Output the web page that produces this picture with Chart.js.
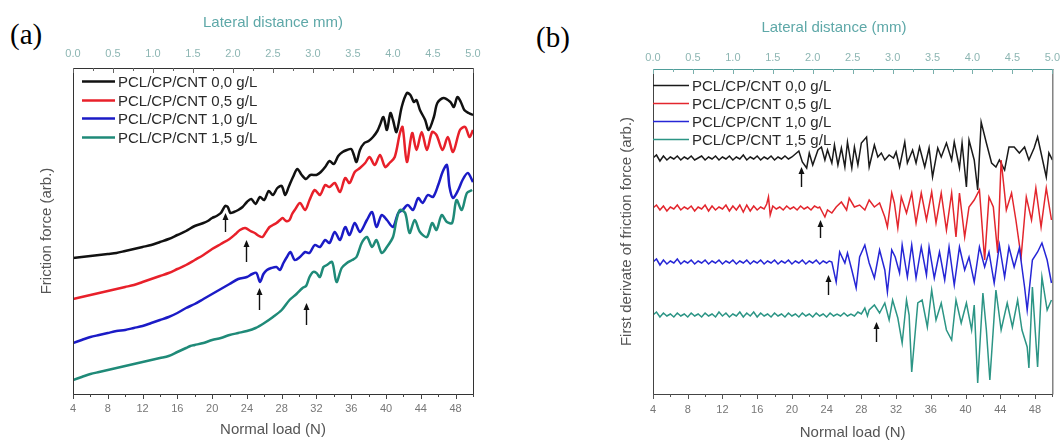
<!DOCTYPE html>
<html>
<head>
<meta charset="utf-8">
<script src="https://cdn.jsdelivr.net/npm/chart.js@4.4.1/dist/chart.umd.min.js"></script>
<style>
  body { margin: 0; background: #fff; width: 1064px; height: 442px; position: relative; overflow: hidden; }
  .panel { position: absolute; top: 0; width: 532px; height: 442px; }
  .tag { position: absolute; font-family: "Liberation Serif", "Times New Roman", serif; font-size: 29px; line-height: 29px; color: #000; }
</style>
</head>
<body>
<div class="tag" style="left:10px;top:20px">(a)</div>
<div class="tag" style="left:536px;top:23px">(b)</div>
<div class="panel" style="left:0"><canvas id="friction"></canvas></div>
<div class="panel" style="left:532px"><canvas id="derivative"></canvas></div>
<script>
// sample names, shared by both panels
const sampleLabels = ['PCL/CP/CNT 0,0 g/L', 'PCL/CP/CNT 0,5 g/L', 'PCL/CP/CNT 1,0 g/L', 'PCL/CP/CNT 1,5 g/L'];

// axis tick labels
const loadTicks = [4, 8, 12, 16, 20, 24, 28, 32, 36, 40, 44, 48];
const distanceTicks = [0, 0.5, 1, 1.5, 2, 2.5, 3, 3.5, 4, 4.5, 5];

// (a) friction force vs normal load, [N, arb.] (curves offset vertically)
const friction00 = [[4,136],[5,137],[6,138],[7,139],[8,140],[9,141],[10,143],[11,145],[12,147],[13,149],[14,152],[15,155],[16,159],[17,163],[18,168],[19,171],[19.5,173],[20,176],[20.5,178],[21,181],[21.5,188],[21.8,187],[22.1,181],[22.5,182],[23,184],[23.5,187],[24,192],[24.5,195],[25,190],[25.5,197],[26,194],[26.5,203],[27,199],[27.5,206],[28,208],[28.4,199],[28.8,207],[29.3,217],[29.8,225],[30.3,219],[30.8,215],[31.3,219],[32,219],[32.5,222],[33,227],[33.5,233],[34,230],[34.5,238],[35,242],[35.5,244],[36,245],[36.3,239],[36.6,232],[37,244],[37.5,251],[38,253],[38.5,257],[39,263],[39.3,269],[39.7,277],[40.1,264],[40.5,281],[40.8,274],[41.2,262],[41.8,287],[42.4,301],[42.8,299],[43.2,292],[43.5,294],[43.9,284],[44.5,274],[44.9,264],[45.5,277],[45.9,291],[46.6,296],[47.4,292],[47.8,287],[48.2,297],[48.6,292],[49,284],[49.5,281],[50,279]];
const friction05 = [[4,95],[5,97],[6,99],[7,101],[8,103],[9,105],[10,107],[11,109],[12,112],[13,115],[14,118],[15,121],[16,125],[17,129],[18,134],[19,139],[20,145],[21,150],[22,155],[22.7,160],[23.2,164],[23.8,166],[24.4,163],[24.9,161],[25.4,158],[25.8,157],[26.2,162],[26.6,167],[27,169],[27.4,171],[27.8,174],[28.1,176],[28.5,173],[28.9,174],[29.2,180],[29.5,184],[30.1,191],[30.7,184],[31.2,194],[31.8,204],[32.4,199],[33,209],[33.5,207],[34.1,211],[34.7,202],[35.3,216],[35.8,211],[36.4,222],[37,226],[37.6,231],[38.1,237],[38.7,229],[39.3,239],[39.9,227],[40.4,231],[41,237],[41.6,261],[41.9,267],[42.4,232],[43,261],[43.5,244],[44.1,262],[44.7,244],[45.3,262],[45.8,259],[46.5,244],[47.1,257],[47.7,242],[48.5,264],[49.1,267],[49.6,257],[50,264]];
const friction10 = [[4,51],[5,54],[6,57],[7,59],[8,61],[9,63],[10,64],[11,66],[12,68],[13,71],[14,74],[15,77],[16,81],[17,86],[18,90],[19,95],[20,100],[21,105],[22,110],[23,115],[24,117],[24.6,120],[25.1,121],[25.5,112],[25.9,120],[26.3,124],[26.8,126],[27.4,127],[27.8,124],[28.2,131],[28.6,137],[29,142],[29.5,134],[30.1,137],[30.7,142],[31.2,141],[31.8,149],[32.4,147],[33,154],[33.5,151],[34.1,162],[34.7,154],[35.3,167],[35.8,159],[36.4,171],[37,162],[37.8,174],[38.4,182],[38.9,167],[39.5,179],[40.1,174],[40.8,167],[41.4,181],[41.9,184],[42.5,189],[43.1,184],[43.7,196],[44.2,191],[44.8,199],[45.4,197],[46,209],[46.5,222],[47,229],[47.3,207],[47.7,196],[48.3,204],[48.8,214],[49.4,221],[50,212]];
const friction15 = [[4,14],[5,17],[6,20],[7,22],[8,24],[9,26],[10,28],[11,30],[12,32],[13,34],[14,36],[15,38],[16,42],[17,46],[17.5,48],[18,49],[19,51],[20,54],[21,56],[22,59],[23,61],[24,63],[25,66],[26,71],[27,77],[28,84],[28.9,94],[29.7,100],[30.4,106],[30.8,108],[31.2,117],[31.6,122],[32,121],[32.4,117],[32.8,127],[33.2,129],[33.8,132],[34.3,112],[34.9,126],[35.5,131],[36.1,134],[36.6,137],[37.2,151],[37.8,157],[38.4,147],[38.9,154],[39.5,141],[40.1,147],[40.8,157],[41.2,174],[41.6,184],[42.2,181],[42.7,161],[43.3,174],[43.9,162],[44.7,157],[45.3,171],[45.8,164],[46.4,179],[47,172],[47.6,171],[48.1,194],[48.7,184],[49.3,201],[49.9,204]];
// onset arrows (a): [N, tail, head]
const frictionArrows = [[21.5,162,181],[23.9,132,154],[25.4,84,106],[30.8,69,91]];

// (b) first derivative of friction force, [N, arb.] (offset traces)
const deriv00 = [[4,236],[4.4,239],[4.8,233],[5.2,238],[5.6,234],[6,237],[6.4,235],[6.8,238],[7.2,234],[7.6,237],[8,235],[8.4,238],[8.8,234],[9.2,236],[9.6,238],[10,234],[10.4,237],[10.8,235],[11.2,238],[11.6,234],[12,237],[12.4,235],[12.8,238],[13.2,234],[13.6,237],[14,235],[14.4,239],[14.8,234],[15.2,237],[15.6,235],[16,238],[16.4,234],[16.8,237],[17.2,235],[17.6,238],[18,234],[18.4,237],[18.8,235],[19.2,238],[19.6,235],[20,237],[20.4,240],[20.8,243],[21.2,232],
  [21.7,226],[22,241],[22.4,229],[23,244],[23.4,247],[23.8,234],[24.1,244],[24.6,231],[24.9,249],[25.3,229],[25.7,246],[26.1,227],[26.4,252],[26.9,226],[27.2,247],[27.6,229],[28,251],[28.6,257],[28.9,227],[29.5,249],[29.9,237],[30.3,241],[30.7,234],[31.2,239],[31.7,236],[32,242],[32.4,227],[33,252],[33.3,231],[33.9,244],[34.3,231],[34.7,247],[35.3,227],[35.8,246],[36.2,217],[36.8,246],[37.2,237],[37.8,251],[38.4,234],[38.7,252],[39.3,226],[39.6,251],[40.1,207],[40.4,254],[41,234],[41.4,204],[41.8,272],[42.4,251],[43,231],[43.5,227],[43.9,234],[44.5,224],[45,247],[45.6,247],[46.2,241],[46.8,247],[47.3,234],[47.9,246],[48.3,257],[48.8,237],[49.3,217],[49.6,241],[50,234]];
const deriv05 = [[4,186],[4.4,189],[4.8,184],[5.2,188],[5.6,183],[6,187],[6.4,185],[6.8,189],[7.2,184],[7.6,187],[8,185],[8.4,188],[8.8,183],[9.2,187],[9.6,185],[10,189],[10.4,183],[10.8,188],[11.2,184],[11.6,187],[12,185],[12.4,189],[12.8,183],[13.2,188],[13.6,184],[14,189],[14.4,182],[14.8,189],[15.2,183],[15.6,188],[16,184],[16.4,187],[16.8,185],[17.1,190],[17.3,197],[17.5,179],[17.8,188],[18.2,185],[18.6,187],[19,184],[19.4,188],[19.8,185],[20.2,187],[20.6,184],[21,188],[21.4,185],[21.8,187],[22.2,184],[22.6,188],[23,186],
  [23.2,187],[23.8,177],[24.1,184],[24.6,181],[25.1,187],[25.7,192],[26.3,184],[26.6,196],[27.2,187],[27.8,189],[28.4,184],[28.9,194],[29.5,187],[30.1,191],[30.7,177],[31,167],[31.5,201],[31.8,191],[32.2,166],[32.6,197],[33.2,181],[33.8,201],[34.3,171],[34.9,201],[35.5,174],[36.1,202],[36.6,171],[37.2,201],[37.8,164],[38.4,201],[38.9,157],[39.3,201],[39.9,157],[40.4,187],[41,194],[41.6,204],[42.2,134],[42.7,197],[43.2,187],[43.7,141],[44.1,234],[44.7,184],[45.3,201],[45.8,174],[46.4,137],[47,197],[47.6,174],[48.1,206],[48.7,167],[49.3,206],[49.9,174]];
const deriv10 = [[4,132],[4.4,135],[4.8,129],[5.2,134],[5.6,130],[6,133],[6.4,131],[6.8,135],[7.2,130],[7.6,133],[8,131],[8.4,134],[8.8,130],[9.2,133],[9.6,131],[10,134],[10.4,130],[10.8,133],[11.2,131],[11.6,134],[12,130],[12.4,133],[12.8,131],[13.2,134],[13.6,130],[14,133],[14.4,131],[14.8,134],[15.2,130],[15.6,133],[16,131],[16.4,134],[16.8,130],[17.2,133],[17.6,131],[18,134],[18.4,130],[18.8,133],[19.2,131],[19.6,134],[20,130],[20.4,133],[20.8,131],[21.2,134],[21.6,130],[22,133],[22.4,131],[22.8,134],[23.2,130],[23.6,133],[24,131],[24.3,133],
  [24.6,132],[25.1,112],[25.5,142],[26.1,131],[26.4,141],[26.9,124],[27.4,106],[27.8,137],[28.4,149],[28.9,131],[29.5,116],[30.1,144],[30.7,124],[31,102],[31.5,144],[31.9,137],[32.4,121],[32.7,149],[33.3,117],[33.8,149],[34.3,116],[34.9,147],[35.5,119],[35.8,147],[36.4,116],[37,142],[37.6,114],[38.1,147],[38.7,109],[39.3,147],[39.9,124],[40.4,137],[41,112],[41.6,147],[42.2,127],[42.7,142],[43.3,111],[43.9,149],[44.5,117],[45,147],[45.6,127],[46.2,146],[46.8,107],[47.1,84],[47.7,134],[48.3,142],[48.8,151],[49.4,134],[49.9,111]];
const deriv15 = [[4,79],[4.4,82],[4.8,77],[5.2,81],[5.6,78],[6,80],[6.4,77],[6.8,81],[7.2,78],[7.6,80],[8,77],[8.4,81],[8.8,78],[9.2,80],[9.6,77],[10,81],[10.4,78],[10.8,80],[11.2,77],[11.6,82],[12,78],[12.4,81],[12.8,77],[13.2,80],[13.6,78],[14,82],[14.4,77],[14.8,81],[15.2,78],[15.6,82],[16,77],[16.4,81],[16.8,78],[17.2,80],[17.6,77],[18,81],[18.4,78],[18.8,80],[19.2,77],[19.6,81],[20,78],[20.4,80],[20.8,77],[21.2,81],[21.6,78],[22,80],[22.4,77],[22.8,81],[23.2,78],[23.6,80],[24,77],[24.4,81],[24.8,78],[25.2,80],[25.6,78],[26,81],[26.4,78],[26.8,80],[27.2,78],[27.6,82],[28,80],[28.4,86],[28.7,78],
  [28.9,84],[29.5,89],[30.1,81],[30.7,91],[31.2,74],[31.6,94],[32.2,76],[32.7,51],[33.2,94],[33.5,79],[33.8,22],[34.5,91],[35,94],[35.6,67],[36.1,104],[36.6,74],[37.2,91],[37.8,64],[38.4,54],[38.9,94],[39.5,71],[40.1,91],[40.7,64],[41,89],[41.4,11],[42,101],[42.4,64],[42.8,14],[43.5,104],[44.1,64],[44.8,91],[45.4,67],[46,94],[46.5,64],[47.1,47],[47.3,26],[47.7,107],[48.3,27],[48.8,117],[49.4,84],[49.9,94]];
// onset arrows (b): [N, tail, head]
const derivArrows = [[21.0,207,227],[23.2,156,174],[24.1,99,119],[29.7,52,72]];

const FONT = '"Liberation Sans", Arial, sans-serif';

// per-canvas decoration settings (frame, minor ticks, in-plot legend, arrows)
const decor = {
  friction: { arrows: frictionArrows, frame: '#333', top: '#333', topTick: '#666', bottomTick: '#444',
    legend: { left: 9, top: 13, gap: 18.7, len: 33, width: 2.6 } },
  derivative: { arrows: derivArrows, frame: '#444', top: '#4f9e9a', topTick: '#7ab0ac', bottomTick: '#555',
    legend: { left: 0, top: 16, gap: 18, len: 36, width: 1.4 } }
};

const panelDecor = {
  id: 'panelDecor',
  afterDatasetsDraw(chart) {
    const d = decor[chart.canvas.id];
    const { ctx, chartArea: a, scales } = chart;
    ctx.save();
    ctx.lineWidth = 1;
    // box around the plot
    ctx.strokeStyle = d.frame;
    ctx.beginPath();
    ctx.moveTo(a.left + 0.5, a.top);
    ctx.lineTo(a.left + 0.5, a.bottom + 0.5);
    ctx.lineTo(a.right + 0.5, a.bottom + 0.5);
    ctx.lineTo(a.right + 0.5, a.top);
    ctx.stroke();
    ctx.strokeStyle = d.top;
    ctx.beginPath();
    ctx.moveTo(a.left, a.top + 0.5);
    ctx.lineTo(a.right + 1, a.top + 0.5);
    ctx.stroke();
    // bottom ticks every 2 N, outward
    ctx.strokeStyle = d.bottomTick;
    ctx.beginPath();
    for (let v = 4; v <= 50; v += 2) {
      const px = Math.round(scales.x.getPixelForValue(v)) + 0.5;
      const len = v % 4 === 0 ? 5 : 3;
      ctx.moveTo(px, a.bottom);
      ctx.lineTo(px, a.bottom + len);
    }
    ctx.stroke();
    // top ticks every 0.25 mm, inward
    ctx.strokeStyle = d.topTick;
    ctx.beginPath();
    for (let i = 0; i <= 20; i++) {
      const px = Math.round(scales.x2.getPixelForValue(i * 0.25)) + 0.5;
      const len = i % 2 === 0 ? 5 : 3;
      ctx.moveTo(px, a.top);
      ctx.lineTo(px, a.top + len);
    }
    ctx.stroke();
    // arrows marking the onset of stick-slip
    ctx.strokeStyle = '#111';
    ctx.fillStyle = '#111';
    ctx.lineWidth = 1.4;
    d.arrows.forEach(([n, tail, head]) => {
      const x = Math.round(scales.x.getPixelForValue(n)) + 0.5;
      const y0 = scales.y.getPixelForValue(tail);
      const y1 = scales.y.getPixelForValue(head);
      ctx.beginPath();
      ctx.moveTo(x, y0);
      ctx.lineTo(x, y1 + 5);
      ctx.stroke();
      ctx.beginPath();
      ctx.moveTo(x, y1);
      ctx.lineTo(x - 3, y1 + 7);
      ctx.lineTo(x + 3, y1 + 7);
      ctx.closePath();
      ctx.fill();
    });
    // legend inside the plot, top-left
    const lg = d.legend;
    ctx.font = '15px ' + FONT;
    ctx.textBaseline = 'middle';
    chart.data.datasets.forEach((ds, i) => {
      const y = Math.round(a.top + lg.top + i * lg.gap) + 0.5;
      const x = a.left + lg.left;
      ctx.strokeStyle = ds.borderColor;
      ctx.lineWidth = lg.width;
      ctx.beginPath();
      ctx.moveTo(x, y);
      ctx.lineTo(x + lg.len, y);
      ctx.stroke();
      ctx.fillStyle = '#2a2a2a';
      ctx.fillText(ds.label, x + lg.len + 3, y + 1);
    });
    ctx.restore();
  }
};

function toPoints(pairs) {
  return pairs.map(p => ({ x: p[0], y: p[1] }));
}

function makePanel(id, series, colors, opts) {
  return new Chart(document.getElementById(id), {
    type: 'line',
    data: {
      datasets: series.map((s, i) => ({
        label: sampleLabels[i],
        data: toPoints(s),
        borderColor: colors[i],
        borderWidth: opts.lineWidth,
        pointRadius: 0,
        tension: opts.tension,
        fill: false,
        order: series.length - i
      }))
    },
    options: {
      responsive: true,
      maintainAspectRatio: false,
      animation: false,
      layout: { padding: { left: 0, right: opts.rightPad, top: 0, bottom: 0 } },
      plugins: { legend: { display: false }, tooltip: { enabled: false } },
      scales: {
        x: {
          type: 'linear', position: 'bottom', min: 4, max: 50,
          afterBuildTicks: s => { s.ticks = loadTicks.map(v => ({ value: v })); },
          afterFit: s => { s.height = 48; },
          grid: { display: false, drawTicks: false },
          border: { display: false },
          ticks: { color: '#777', font: { family: FONT, size: 11 }, padding: opts.bottomPad, maxRotation: 0, autoSkip: false },
          title: { display: true, text: 'Normal load (N)', color: '#555', font: { family: FONT, size: 15 }, padding: { top: 0, bottom: opts.titleBottom } }
        },
        x2: {
          type: 'linear', position: 'top', min: 0, max: 5,
          afterBuildTicks: s => { s.ticks = distanceTicks.map(v => ({ value: v })); },
          afterFit: s => { s.height = opts.plotTop; },
          grid: { display: false, drawTicks: false },
          border: { display: false },
          ticks: { color: '#8db6b3', font: { family: FONT, size: 11 }, padding: opts.topPad, maxRotation: 0, autoSkip: false,
            callback: v => v.toFixed(1) },
          title: { display: true, text: opts.topTitle, color: '#5ea8a8', font: { family: FONT, size: 15 }, padding: { top: opts.topTitlePad, bottom: 0 } }
        },
        y: {
          min: 0, max: opts.yMax,
          afterFit: s => { s.width = opts.yWidth; },
          grid: { display: false },
          border: { display: false },
          ticks: { display: false },
          title: { display: true, text: opts.yTitle, color: '#555', font: { family: FONT, size: 15 }, padding: { top: opts.yTitlePad, bottom: 0 } }
        }
      }
    },
    plugins: [panelDecor]
  });
}

makePanel('friction', [friction00, friction05, friction10, friction15],
  ['#111111', '#e8202a', '#1b1bc6', '#1f8a78'],
  { lineWidth: 2.5, tension: 0.3, rightPad: 59, plotTop: 68, yMax: 326, yWidth: 73,
    yTitle: 'Friction force (arb.)', yTitlePad: 38,
    topTitle: 'Lateral distance mm)', topTitlePad: 14, topPad: 7, bottomPad: 8, titleBottom: 3 });

makePanel('derivative', [deriv00, deriv05, deriv10, deriv15],
  ['#1a1a1a', '#e3262d', '#2626d6', '#2c9585'],
  { lineWidth: 1.5, tension: 0, rightPad: 11, plotTop: 69, yMax: 325, yWidth: 121,
    yTitle: 'First derivate of friction force (arb.)', yTitlePad: 86,
    topTitle: 'Lateral distance (mm)\u2003\u2003\u2002', topTitlePad: 19, topPad: 4, bottomPad: 9, titleBottom: 0 });
</script>
</body>
</html>
